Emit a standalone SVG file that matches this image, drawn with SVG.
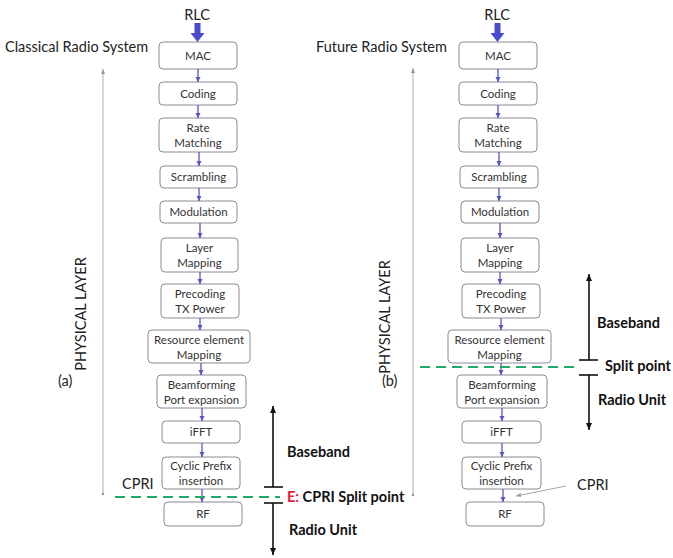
<svg xmlns="http://www.w3.org/2000/svg" width="673" height="558" viewBox="0 0 673 558">
<style>
.box{fill:#fff;stroke:#8a8a94;stroke-width:1}
.bt{font-family:Lato,"Liberation Sans",sans-serif;font-size:11.5px;fill:#333;text-anchor:middle}
.lbl{font-family:Lato,"Liberation Sans",sans-serif;font-size:14.5px;fill:#222}
.bold{font-family:Lato,"Liberation Sans",sans-serif;font-size:14.5px;font-weight:bold;fill:#111}
.conn{stroke:#5555c0;stroke-width:1.3;fill:none;marker-end:url(#ah)}
.phy{stroke:#b0b0b8;stroke-width:1;fill:none}
.split{stroke:#1faa6a;stroke-width:2;stroke-dasharray:10,6;fill:none}
.blk{stroke:#111;stroke-width:1.6;fill:none}
</style>
<defs>
<marker id="ah" markerWidth="6" markerHeight="6" refX="5" refY="3" orient="auto" markerUnits="userSpaceOnUse"><path d="M0,0.5 L5,3 L0,5.5 z" fill="#5555c0"/></marker>
<marker id="bh" markerWidth="8" markerHeight="8" refX="7" refY="4" orient="auto" markerUnits="userSpaceOnUse"><path d="M0,1 L7,4 L0,7 z" fill="#111"/></marker>
<marker id="gh" markerWidth="6" markerHeight="6" refX="5" refY="3" orient="auto" markerUnits="userSpaceOnUse"><path d="M0,1 L5,3 L0,5 z" fill="#999"/></marker>
</defs>

<!-- Left: Classical -->
<text class="lbl" x="5" y="52">Classical Radio System</text>
<text class="lbl" x="197" y="20" text-anchor="middle">RLC</text>
<text class="lbl" x="58" y="386" font-size="13.5">(a)</text>
<text class="lbl" x="0" y="0" font-size="12.5" text-anchor="middle" transform="translate(86,314) rotate(-90)">PHYSICAL LAYER</text>

<g id="l-mac"><rect class="box" x="159" y="42" width="78" height="27" rx="4"/><text class="bt" x="198" y="59.5">MAC</text></g>
<g id="l-coding"><rect class="box" x="159" y="82" width="78" height="23" rx="4"/><text class="bt" x="198" y="97.5">Coding</text></g>
<g id="l-rate"><rect class="box" x="159" y="118" width="78" height="34" rx="4"/><text class="bt" x="198" y="132">Rate</text><text class="bt" x="198" y="146.5">Matching</text></g>
<g id="l-scr"><rect class="box" x="160" y="166" width="77" height="22" rx="4"/><text class="bt" x="198.5" y="181">Scrambling</text></g>
<g id="l-mod"><rect class="box" x="160" y="201" width="77" height="22" rx="4"/><text class="bt" x="198.5" y="216">Modulation</text></g>
<g id="l-layer"><rect class="box" x="161" y="238" width="77" height="34" rx="4"/><text class="bt" x="199.5" y="252">Layer</text><text class="bt" x="199.5" y="266.5">Mapping</text></g>
<g id="l-prec"><rect class="box" x="161" y="284" width="78" height="34" rx="4"/><text class="bt" x="200" y="298">Precoding</text><text class="bt" x="200" y="312.5">TX Power</text></g>
<g id="l-res"><rect class="box" x="148" y="330" width="102" height="33" rx="4"/><text class="bt" x="199" y="344">Resource element</text><text class="bt" x="199" y="358.5">Mapping</text></g>
<g id="l-beam"><rect class="box" x="157" y="375" width="89" height="33" rx="4"/><text class="bt" x="201.5" y="389">Beamforming</text><text class="bt" x="201.5" y="403.5">Port expansion</text></g>
<g id="l-ifft"><rect class="box" x="162" y="421" width="78" height="22" rx="4"/><text class="bt" x="201" y="436">iFFT</text></g>
<g id="l-cp"><rect class="box" x="162" y="457" width="78" height="32" rx="4"/><text class="bt" x="201" y="470">Cyclic Prefix</text><text class="bt" x="201" y="484.5">insertion</text></g>
<g id="l-rf"><rect class="box" x="164" y="502" width="78" height="24" rx="4"/><text class="bt" x="203" y="518">RF</text></g>

<!-- Right: Future -->
<text class="lbl" x="316" y="52">Future Radio System</text>
<text class="lbl" x="497" y="20" text-anchor="middle">RLC</text>
<text class="lbl" x="382" y="386" font-size="13.5">(b)</text>
<text class="lbl" x="0" y="0" font-size="12.5" text-anchor="middle" transform="translate(390,317) rotate(-90)">PHYSICAL LAYER</text>

<g id="r-mac"><rect class="box" x="459" y="42" width="78" height="27" rx="4"/><text class="bt" x="498" y="59.5">MAC</text></g>
<g id="r-coding"><rect class="box" x="459" y="82" width="78" height="23" rx="4"/><text class="bt" x="498" y="97.5">Coding</text></g>
<g id="r-rate"><rect class="box" x="459" y="118" width="78" height="34" rx="4"/><text class="bt" x="498" y="132">Rate</text><text class="bt" x="498" y="146.5">Matching</text></g>
<g id="r-scr"><rect class="box" x="460" y="166" width="78" height="22" rx="4"/><text class="bt" x="499" y="181">Scrambling</text></g>
<g id="r-mod"><rect class="box" x="461" y="201" width="78" height="22" rx="4"/><text class="bt" x="500" y="216">Modulation</text></g>
<g id="r-layer"><rect class="box" x="461" y="238" width="78" height="34" rx="4"/><text class="bt" x="500" y="252">Layer</text><text class="bt" x="500" y="266.5">Mapping</text></g>
<g id="r-prec"><rect class="box" x="462" y="284" width="78" height="34" rx="4"/><text class="bt" x="501" y="298">Precoding</text><text class="bt" x="501" y="312.5">TX Power</text></g>
<g id="r-res"><rect class="box" x="448" y="330" width="103" height="33" rx="4"/><text class="bt" x="499.5" y="344">Resource element</text><text class="bt" x="499.5" y="358.5">Mapping</text></g>
<g id="r-beam"><rect class="box" x="457" y="375" width="90" height="33" rx="4"/><text class="bt" x="502" y="389">Beamforming</text><text class="bt" x="502" y="403.5">Port expansion</text></g>
<g id="r-ifft"><rect class="box" x="462" y="421" width="79" height="22" rx="4"/><text class="bt" x="501.5" y="436">iFFT</text></g>
<g id="r-cp"><rect class="box" x="462" y="457" width="79" height="32" rx="4"/><text class="bt" x="501.5" y="470">Cyclic Prefix</text><text class="bt" x="501.5" y="484.5">insertion</text></g>
<g id="r-rf"><rect class="box" x="466" y="502" width="78" height="24" rx="4"/><text class="bt" x="505" y="518">RF</text></g>

<g id="connectors">
<!-- RLC thick arrows -->
<path d="M194.5,23 h6 v10 h4 l-7,9 l-7,-9 h4 z" fill="#4a4ad0"/>
<path d="M494.5,23 h6 v10 h4 l-7,9 l-7,-9 h4 z" fill="#4a4ad0"/>
<!-- left chain -->
<line class="conn" x1="198" y1="69" x2="198" y2="82"/>
<line class="conn" x1="198" y1="105" x2="198" y2="118"/>
<line class="conn" x1="199" y1="152" x2="199" y2="166"/>
<line class="conn" x1="199" y1="188" x2="199" y2="201"/>
<line class="conn" x1="200" y1="223" x2="200" y2="238"/>
<line class="conn" x1="200" y1="272" x2="200" y2="284"/>
<line class="conn" x1="200" y1="318" x2="200" y2="330"/>
<line class="conn" x1="201" y1="363" x2="201" y2="375"/>
<line class="conn" x1="202" y1="408" x2="202" y2="421"/>
<line class="conn" x1="202" y1="443" x2="202" y2="457"/>
<line class="conn" x1="202" y1="489" x2="202" y2="502"/>
<!-- right chain -->
<line class="conn" x1="498" y1="69" x2="498" y2="82"/>
<line class="conn" x1="498" y1="105" x2="498" y2="118"/>
<line class="conn" x1="499" y1="152" x2="499" y2="166"/>
<line class="conn" x1="499" y1="188" x2="499" y2="201"/>
<line class="conn" x1="500" y1="223" x2="500" y2="238"/>
<line class="conn" x1="500" y1="272" x2="500" y2="284"/>
<line class="conn" x1="501" y1="318" x2="501" y2="330"/>
<line class="conn" x1="501" y1="363" x2="501" y2="375"/>
<line class="conn" x1="502" y1="408" x2="502" y2="421"/>
<line class="conn" x1="502" y1="443" x2="502" y2="457"/>
<line class="conn" x1="503" y1="489" x2="503" y2="502"/>
<!-- physical layer lines -->
<line class="phy" x1="103" y1="494" x2="103" y2="69" marker-end="url(#gh)"/>
<circle cx="103" cy="494" r="1.3" fill="#999"/>
<line class="phy" x1="413" y1="495" x2="413" y2="68" marker-end="url(#gh)"/>
<circle cx="413" cy="495" r="1.3" fill="#999"/>
<!-- split lines -->
<line class="split" x1="115" y1="497" x2="280" y2="497"/>
<line class="split" x1="420" y1="367" x2="580" y2="367"/>
<!-- left baseband / radio unit -->
<line class="blk" x1="273" y1="487" x2="273" y2="406" marker-end="url(#bh)"/>
<line class="blk" x1="264" y1="487" x2="283" y2="487"/>
<line class="blk" x1="264" y1="503" x2="283" y2="503"/>
<line class="blk" x1="273" y1="503" x2="273" y2="555" marker-end="url(#bh)"/>
<!-- right baseband / radio unit -->
<line class="blk" x1="589" y1="360" x2="589" y2="274" marker-end="url(#bh)"/>
<line class="blk" x1="579" y1="360" x2="598" y2="360"/>
<line class="blk" x1="579" y1="375" x2="598" y2="375"/>
<line class="blk" x1="589" y1="375" x2="589" y2="430" marker-end="url(#bh)"/>
<!-- right CPRI pointer -->
<line x1="566" y1="486" x2="516" y2="496" stroke="#9a9aa8" stroke-width="0.9" marker-end="url(#gh)"/>
</g>

<text class="lbl" x="122" y="489" font-size="13.5">CPRI</text>
<text class="bold" x="287" y="457">Baseband</text>
<text class="bold" x="287" y="502"><tspan fill="#e8203a">E:</tspan> CPRI Split point</text>
<text class="bold" x="289" y="535">Radio Unit</text>
<text class="bold" x="597" y="328">Baseband</text>
<text class="bold" x="605" y="371">Split point</text>
<text class="bold" x="598" y="405">Radio Unit</text>
<text class="lbl" x="577" y="490" font-size="13.5">CPRI</text>
</svg>
